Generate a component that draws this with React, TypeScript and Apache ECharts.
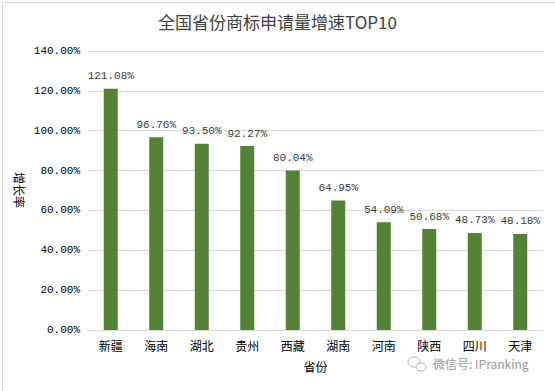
import React, { useEffect, useRef } from "react";
import * as echarts from "echarts";

const categories = ["新疆", "海南", "湖北", "贵州", "西藏", "湖南", "河南", "陕西", "四川", "天津"];
const growth = [121.08, 96.76, 93.5, 92.27, 80.04, 64.95, 54.09, 50.68, 48.73, 48.18];
const titleText = "全国省份商标申请量增速TOP10";
const yName = "增长率";
const xName = "省份";
const watermark = "微信号: IPranking";

const CJK = "'Noto Sans CJK SC', 'Noto Sans', sans-serif";
const MONO = "'Liberation Mono', 'DejaVu Sans Mono', monospace";

export default function App() {
  const ref = useRef<HTMLDivElement>(null);
  useEffect(() => {
    document.body.style.margin = "0";
    const chart = echarts.init(ref.current!, null, { renderer: "svg" });
    chart.setOption({
      animation: false,
      backgroundColor: "#ffffff",
      title: {
        text: titleText,
        left: "center",
        top: 8,
        textStyle: { fontFamily: CJK, fontSize: 17, fontWeight: "normal", color: "#404040" },
      },
      grid: { left: 88, right: 12, top: 51, bottom: 61 },
      xAxis: {
        type: "category",
        data: categories,
        name: xName,
        nameLocation: "middle",
        nameGap: 30,
        nameTextStyle: { fontFamily: CJK, fontSize: 12, color: "#000" },
        axisLine: { lineStyle: { color: "#d9d9d9" } },
        axisTick: { show: false },
        axisLabel: { fontFamily: CJK, fontSize: 12, color: "#000", margin: 9 },
      },
      yAxis: {
        type: "value",
        min: 0,
        max: 140,
        interval: 20,
        axisLine: { show: false },
        axisTick: { show: false },
        splitLine: { lineStyle: { color: "#d9d9d9" } },
        axisLabel: {
          fontFamily: MONO,
          fontSize: 11,
          color: "#000",
          margin: 8,
          formatter: (v: number) => v.toFixed(2) + "%",
        },
      },
      series: [
        {
          type: "bar",
          data: growth,
          barWidth: 14,
          itemStyle: { color: "#548235" },
          label: {
            show: true,
            position: "top",
            distance: 7,
            fontFamily: MONO,
            fontSize: 11,
            color: "#404040",
            formatter: (p: any) => p.value.toFixed(2) + "%",
          },
        },
      ],
      graphic: [
        {
          type: "rect",
          left: 0,
          top: 0,
          shape: { x: 0.5, y: 0.5, width: 553, height: 389 },
          style: { fill: "none", stroke: "#d9d9d9", lineWidth: 1 },
          silent: true,
        },
        {
          type: "text",
          x: 19,
          y: 190,
          rotation: -Math.PI / 2,
          style: {
            text: yName,
            fontFamily: CJK,
            fontSize: 12,
            fill: "#000",
            align: "center",
            verticalAlign: "middle",
          },
        },
        {
          type: "ellipse",
          shape: { cx: 414, cy: 362, rx: 6, ry: 5 },
          style: { fill: "none", stroke: "#b0b0b0", lineWidth: 1 },
        },
        {
          type: "ellipse",
          shape: { cx: 421, cy: 367, rx: 5, ry: 4 },
          style: { fill: "#fff", stroke: "#b0b0b0", lineWidth: 1 },
        },
        {
          type: "text",
          left: 433,
          top: 357,
          style: { text: watermark, fontFamily: CJK, fontSize: 12, fill: "#9a9a9a" },
        },
      ],
    });
    return () => chart.dispose();
  }, []);
  return <div ref={ref} style={{ width: 555, height: 391 }} />;
}
